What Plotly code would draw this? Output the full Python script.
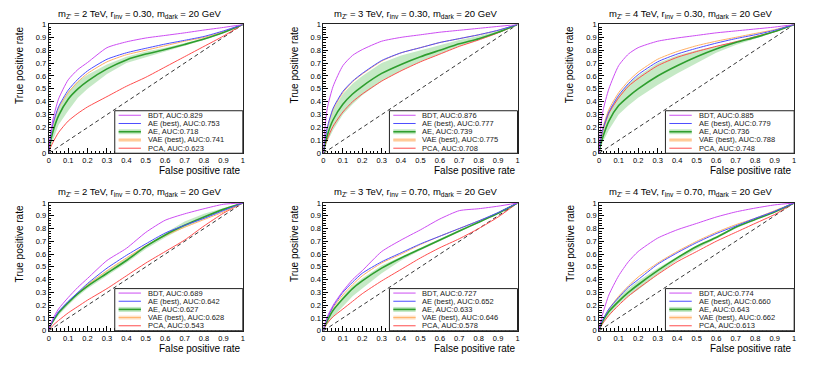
import plotly.graph_objects as go
from plotly.subplots import make_subplots

# ---------------- data ----------------
FPR = [0, 0.005, 0.02, 0.05, 0.1, 0.15, 0.2, 0.3, 0.4, 0.5, 0.6, 0.7, 0.8, 0.9, 1.0]
DIAG = [0, 1]

TITLES = [
    "m<sub>Z'</sub> = 2 TeV, r<sub>inv</sub> = 0.30, m<sub>dark</sub> = 20 GeV",
    "m<sub>Z'</sub> = 3 TeV, r<sub>inv</sub> = 0.30, m<sub>dark</sub> = 20 GeV",
    "m<sub>Z'</sub> = 4 TeV, r<sub>inv</sub> = 0.30, m<sub>dark</sub> = 20 GeV",
    "m<sub>Z'</sub> = 2 TeV, r<sub>inv</sub> = 0.70, m<sub>dark</sub> = 20 GeV",
    "m<sub>Z'</sub> = 3 TeV, r<sub>inv</sub> = 0.70, m<sub>dark</sub> = 20 GeV",
    "m<sub>Z'</sub> = 4 TeV, r<sub>inv</sub> = 0.70, m<sub>dark</sub> = 20 GeV",
]
MODELS = ["BDT", "AE (best)", "AE", "VAE (best)", "PCA"]

# panel 1: 2 TeV, rinv 0.30
P1_BDT = [0, 0.10, 0.25, 0.42, 0.57, 0.65, 0.705, 0.82, 0.865, 0.895, 0.915, 0.935, 0.957, 0.977, 1]
P1_AEB = [0, 0.08, 0.22, 0.36, 0.49, 0.575, 0.64, 0.73, 0.78, 0.815, 0.848, 0.877, 0.907, 0.95, 1]
P1_AE = [0, 0.06, 0.16, 0.29, 0.42, 0.50, 0.56, 0.655, 0.725, 0.77, 0.805, 0.845, 0.887, 0.937, 1]
P1_AE_LO = [0, 0.03, 0.10, 0.22, 0.33, 0.43, 0.50, 0.615, 0.70, 0.75, 0.79, 0.835, 0.88, 0.933, 1]
P1_AE_HI = [0, 0.09, 0.22, 0.36, 0.48, 0.56, 0.61, 0.69, 0.75, 0.79, 0.82, 0.855, 0.893, 0.94, 1]
P1_VAE = [0, 0.08, 0.21, 0.35, 0.47, 0.555, 0.62, 0.71, 0.765, 0.80, 0.835, 0.87, 0.90, 0.945, 1]
P1_PCA = [0, 0.03, 0.08, 0.16, 0.25, 0.31, 0.36, 0.44, 0.52, 0.59, 0.67, 0.75, 0.83, 0.91, 1]
P1_AUC = ["0.829", "0.753", "0.718", "0.741", "0.623"]

# panel 2: 3 TeV, rinv 0.30
P2_BDT = [0, 0.15, 0.35, 0.52, 0.68, 0.76, 0.805, 0.87, 0.90, 0.92, 0.94, 0.955, 0.97, 0.985, 1]
P2_AEB = [0, 0.08, 0.20, 0.35, 0.48, 0.56, 0.62, 0.72, 0.78, 0.82, 0.86, 0.89, 0.92, 0.955, 1]
P2_AE = [0, 0.05, 0.14, 0.26, 0.38, 0.46, 0.52, 0.62, 0.69, 0.75, 0.80, 0.85, 0.89, 0.94, 1]
P2_AE_LO = [0, 0.03, 0.09, 0.18, 0.30, 0.38, 0.45, 0.56, 0.64, 0.71, 0.77, 0.83, 0.88, 0.935, 1]
P2_AE_HI = [0, 0.08, 0.20, 0.34, 0.46, 0.54, 0.60, 0.70, 0.76, 0.80, 0.84, 0.88, 0.91, 0.95, 1]
P2_VAE = [0, 0.08, 0.20, 0.34, 0.47, 0.555, 0.615, 0.715, 0.78, 0.82, 0.86, 0.89, 0.92, 0.955, 1]
P2_PCA = [0, 0.04, 0.11, 0.21, 0.32, 0.40, 0.46, 0.56, 0.64, 0.71, 0.77, 0.83, 0.88, 0.935, 1]
P2_AUC = ["0.876", "0.777", "0.739", "0.775", "0.708"]

# panel 3: 4 TeV, rinv 0.30
P3_BDT = [0, 0.15, 0.33, 0.50, 0.68, 0.77, 0.82, 0.87, 0.895, 0.915, 0.935, 0.95, 0.965, 0.98, 1]
P3_AEB = [0, 0.08, 0.19, 0.32, 0.45, 0.54, 0.61, 0.71, 0.77, 0.815, 0.855, 0.89, 0.92, 0.955, 1]
P3_AE = [0, 0.05, 0.13, 0.25, 0.37, 0.44, 0.50, 0.60, 0.68, 0.75, 0.81, 0.86, 0.90, 0.945, 1]
P3_AE_LO = [0, 0.03, 0.09, 0.18, 0.30, 0.37, 0.43, 0.53, 0.62, 0.70, 0.78, 0.84, 0.89, 0.94, 1]
P3_AE_HI = [0, 0.08, 0.20, 0.33, 0.45, 0.54, 0.60, 0.70, 0.76, 0.80, 0.83, 0.87, 0.91, 0.95, 1]
P3_VAE = [0, 0.08, 0.20, 0.34, 0.47, 0.56, 0.63, 0.73, 0.79, 0.835, 0.87, 0.90, 0.93, 0.96, 1]
P3_PCA = [0, 0.07, 0.18, 0.31, 0.43, 0.52, 0.58, 0.68, 0.745, 0.79, 0.83, 0.865, 0.905, 0.945, 1]
P3_AUC = ["0.885", "0.779", "0.736", "0.788", "0.748"]

# panel 4: 2 TeV, rinv 0.70
P4_BDT = [0, 0.03, 0.09, 0.17, 0.26, 0.34, 0.41, 0.55, 0.645, 0.77, 0.865, 0.915, 0.955, 0.99, 1]
P4_AEB = [0, 0.03, 0.08, 0.15, 0.23, 0.30, 0.37, 0.49, 0.59, 0.68, 0.765, 0.825, 0.88, 0.94, 1]
P4_AE = [0, 0.03, 0.07, 0.14, 0.22, 0.29, 0.35, 0.45, 0.55, 0.66, 0.75, 0.825, 0.89, 0.95, 1]
P4_AE_LO = [0, 0.02, 0.06, 0.12, 0.20, 0.27, 0.33, 0.43, 0.53, 0.64, 0.73, 0.81, 0.875, 0.94, 1]
P4_AE_HI = [0, 0.03, 0.08, 0.15, 0.23, 0.30, 0.37, 0.47, 0.57, 0.67, 0.765, 0.855, 0.915, 0.96, 1]
P4_VAE = [0, 0.03, 0.075, 0.145, 0.22, 0.295, 0.36, 0.47, 0.57, 0.665, 0.745, 0.81, 0.87, 0.93, 1]
P4_PCA = [0, 0.01, 0.04, 0.08, 0.14, 0.19, 0.24, 0.33, 0.43, 0.53, 0.62, 0.71, 0.82, 0.92, 1]
P4_AUC = ["0.689", "0.642", "0.627", "0.628", "0.543"]

# panel 5: 3 TeV, rinv 0.70
P5_BDT = [0, 0.04, 0.11, 0.20, 0.31, 0.40, 0.47, 0.62, 0.71, 0.79, 0.875, 0.94, 0.955, 0.975, 1]
P5_AEB = [0, 0.04, 0.10, 0.19, 0.30, 0.38, 0.45, 0.54, 0.61, 0.68, 0.74, 0.80, 0.86, 0.925, 1]
P5_AE = [0, 0.03, 0.08, 0.16, 0.25, 0.33, 0.39, 0.49, 0.57, 0.64, 0.71, 0.78, 0.85, 0.92, 1]
P5_AE_LO = [0, 0.02, 0.05, 0.11, 0.19, 0.27, 0.33, 0.45, 0.55, 0.63, 0.70, 0.775, 0.845, 0.915, 1]
P5_AE_HI = [0, 0.04, 0.09, 0.17, 0.27, 0.35, 0.41, 0.51, 0.58, 0.65, 0.72, 0.79, 0.855, 0.925, 1]
P5_VAE = [0, 0.04, 0.10, 0.18, 0.28, 0.36, 0.43, 0.53, 0.60, 0.675, 0.74, 0.80, 0.86, 0.92, 1]
P5_PCA = [0, 0.02, 0.06, 0.11, 0.17, 0.23, 0.29, 0.39, 0.48, 0.57, 0.65, 0.72, 0.80, 0.89, 1]
P5_AUC = ["0.727", "0.652", "0.633", "0.646", "0.578"]

# panel 6: 4 TeV, rinv 0.70
P6_BDT = [0, 0.05, 0.14, 0.28, 0.43, 0.54, 0.62, 0.725, 0.79, 0.84, 0.89, 0.93, 0.96, 0.985, 1]
P6_AEB = [0, 0.04, 0.09, 0.17, 0.26, 0.34, 0.40, 0.52, 0.61, 0.69, 0.76, 0.82, 0.88, 0.935, 1]
P6_AE = [0, 0.03, 0.08, 0.15, 0.23, 0.30, 0.36, 0.47, 0.57, 0.66, 0.73, 0.81, 0.87, 0.93, 1]
P6_AE_LO = [0, 0.02, 0.06, 0.12, 0.21, 0.27, 0.32, 0.44, 0.55, 0.64, 0.72, 0.80, 0.865, 0.928, 1]
P6_AE_HI = [0, 0.04, 0.09, 0.17, 0.26, 0.33, 0.39, 0.49, 0.58, 0.67, 0.74, 0.815, 0.875, 0.932, 1]
P6_VAE = [0, 0.04, 0.09, 0.17, 0.27, 0.35, 0.42, 0.53, 0.62, 0.70, 0.77, 0.83, 0.88, 0.94, 1]
P6_PCA = [0, 0.02, 0.06, 0.12, 0.20, 0.27, 0.33, 0.44, 0.54, 0.62, 0.70, 0.77, 0.84, 0.91, 1]
P6_AUC = ["0.774", "0.660", "0.643", "0.662", "0.613"]

PANELS = [
    (P1_BDT, P1_AEB, P1_AE, P1_AE_LO, P1_AE_HI, P1_VAE, P1_PCA, P1_AUC),
    (P2_BDT, P2_AEB, P2_AE, P2_AE_LO, P2_AE_HI, P2_VAE, P2_PCA, P2_AUC),
    (P3_BDT, P3_AEB, P3_AE, P3_AE_LO, P3_AE_HI, P3_VAE, P3_PCA, P3_AUC),
    (P4_BDT, P4_AEB, P4_AE, P4_AE_LO, P4_AE_HI, P4_VAE, P4_PCA, P4_AUC),
    (P5_BDT, P5_AEB, P5_AE, P5_AE_LO, P5_AE_HI, P5_VAE, P5_PCA, P5_AUC),
    (P6_BDT, P6_AEB, P6_AE, P6_AE_LO, P6_AE_HI, P6_VAE, P6_PCA, P6_AUC),
]

# ---------------- styling ----------------
W, H = 830, 366
FONT = "Liberation Sans, Arial, Helvetica, sans-serif"
C_BDT = "#cc4df2"
C_AEB = "#4d4dff"
C_AE = "#2e9e2e"
C_BAND = "rgba(150,215,150,0.55)"
C_VAE = "#ffb066"
C_VAE_LEG = "#ffe2c8"
C_PCA = "#ff4d4d"

COLS_PX = [(47, 242), (323, 518), (600, 796)]
ROWS_PX = [(21, 153), (204, 335)]
PAD_CENTERS = [138, 415, 692]
TITLE_Y = [10, 193]
XTITLE_Y = [171, 353]

fig = make_subplots(rows=2, cols=3)

annotations = []
shapes = []

for i, p in enumerate(PANELS):
    bdt, aeb, ae, ae_lo, ae_hi, vae, pca, auc = p
    r, c = divmod(i, 3)
    row, col = r + 1, c + 1
    spl = dict(shape="spline", smoothing=0.6)

    fig.add_trace(go.Scatter(x=FPR + FPR[::-1], y=ae_hi + ae_lo[::-1], mode="lines",
                             fill="toself", fillcolor=C_BAND, line=dict(width=0),
                             hoverinfo="skip", showlegend=False), row=row, col=col)
    fig.add_trace(go.Scatter(x=DIAG, y=DIAG, mode="lines",
                             line=dict(color="black", width=0.8, dash="4px,3px"),
                             showlegend=False), row=row, col=col)
    for ys, colr, w in [(pca, C_PCA, 1), (vae, C_VAE, 1), (ae, C_AE, 1.6),
                        (aeb, C_AEB, 1), (bdt, C_BDT, 1)]:
        fig.add_trace(go.Scatter(x=FPR, y=ys, mode="lines",
                                 line=dict(color=colr, width=w, **spl),
                                 showlegend=False), row=row, col=col)

    xname = "x" if i == 0 else f"x{i+1}"
    yname = "y" if i == 0 else f"y{i+1}"
    x0p, x1p = COLS_PX[c]
    y0p, y1p = ROWS_PX[r]
    axis_common = dict(range=[0, 1], dtick=0.1, tick0=0, ticks="inside", ticklen=5,
                       tickwidth=0.8, tickcolor="black",
                       minor=dict(dtick=0.02, ticks="inside", ticklen=2.5,
                                  tickcolor="black", tickwidth=0.8),
                       showline=True, linecolor="#222", linewidth=1, mirror=True,
                       showgrid=False, zeroline=False,
                       tickfont=dict(family=FONT, size=7.5, color="black"))
    fig.update_xaxes(domain=[x0p / W, x1p / W], row=row, col=col, **axis_common)
    fig.update_yaxes(domain=[1 - y1p / H, 1 - y0p / H], row=row, col=col, **axis_common)

    xd = f"{xname} domain"
    yd = f"{yname} domain"
    # legend box
    shapes.append(dict(type="rect", xref=xd, yref=yd, x0=0.34, x1=1, y0=0, y1=0.33,
                       fillcolor="white", line=dict(color="#222", width=1), layer="above"))
    row_y = [0.295 - k * 0.064 for k in range(5)]
    leg_cols = [C_BDT, C_AEB, C_AE, C_VAE, C_PCA]
    for k in range(5):
        yk = row_y[k]
        if k == 2:
            shapes.append(dict(type="line", xref=xd, yref=yd, x0=0.36, x1=0.475, y0=yk, y1=yk,
                               line=dict(color=C_BAND, width=5), layer="above"))
        if k == 3:
            shapes.append(dict(type="line", xref=xd, yref=yd, x0=0.36, x1=0.475, y0=yk, y1=yk,
                               line=dict(color=C_VAE_LEG, width=4), layer="above"))
        shapes.append(dict(type="line", xref=xd, yref=yd, x0=0.36, x1=0.475, y0=yk, y1=yk,
                           line=dict(color=leg_cols[k], width=1.6 if k == 2 else 1),
                           layer="above"))
        annotations.append(dict(xref=xd, yref=yd, x=0.50, y=yk, xanchor="left",
                                yanchor="middle", showarrow=False,
                                text=f"{MODELS[k]}, AUC:{auc[k]}",
                                font=dict(family=FONT, size=7.5, color="#222")))
    # titles
    annotations.append(dict(xref="paper", yref="paper", x=PAD_CENTERS[c] / W,
                            y=1 - TITLE_Y[r] / H, xanchor="center", yanchor="middle",
                            showarrow=False, text=TITLES[i],
                            font=dict(family=FONT, size=9.5, color="black")))
    annotations.append(dict(xref="paper", yref="paper", x=x1p / W,
                            y=1 - XTITLE_Y[r] / H, xanchor="right", yanchor="middle",
                            showarrow=False, text="False positive rate",
                            font=dict(family=FONT, size=10, color="black")))
    annotations.append(dict(xref="paper", yref="paper", x=(x0p - 29) / W,
                            y=1 - y0p / H, xanchor="center", yanchor="top",
                            textangle=-90, showarrow=False, text="True positive rate",
                            font=dict(family=FONT, size=10, color="black")))

fig.update_layout(width=W, height=H, margin=dict(l=0, r=0, t=0, b=0),
                  paper_bgcolor="white", plot_bgcolor="white",
                  showlegend=False, annotations=annotations, shapes=shapes,
                  font=dict(family=FONT))

fig.write_html("out.html", config={"displayModeBar": False},
               post_script="document.body.style.margin='0';document.body.style.padding='0';")
